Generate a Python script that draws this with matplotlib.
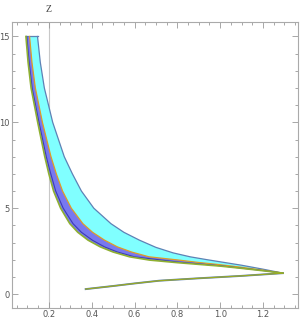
import matplotlib
matplotlib.use("Agg")
import matplotlib.pyplot as plt
from matplotlib.ticker import MultipleLocator

# Outer (right, blue-outlined) edge of the band
x_outer = [0.147, 0.160, 0.179, 0.218, 0.272, 0.31, 0.352, 0.41, 0.49, 0.55, 0.623,
           0.70, 0.78, 0.86, 0.94, 1.0, 1.1, 1.2, 1.293]
z_outer = [15, 13.5, 12, 10, 8, 7, 6, 5, 4.1, 3.6, 3.14,
           2.72, 2.40, 2.17, 2.0, 1.88, 1.68, 1.45, 1.22]

# Inner (left, green) edge
x_inner = [0.093, 0.103, 0.117, 0.148, 0.181, 0.20, 0.222, 0.255, 0.298, 0.335, 0.383,
           0.44, 0.50, 0.577, 0.67, 0.8, 0.9, 1.0, 1.1, 1.2, 1.293]
z_inner = [15, 13.5, 12, 10, 8, 7, 6, 5, 4.1, 3.6, 3.14,
           2.75, 2.45, 2.17, 1.98, 1.83, 1.73, 1.63, 1.50, 1.36, 1.22]

# Orange middle curve
x_mid = [0.110, 0.121, 0.137, 0.170, 0.210, 0.235, 0.264, 0.305, 0.359, 0.404, 0.460,
         0.52, 0.586, 0.668, 0.8, 0.9, 1.0, 1.1, 1.2, 1.293]
z_mid = [15, 13.5, 12, 10, 8, 7, 6, 5, 4.1, 3.6, 3.14,
         2.75, 2.45, 2.17, 1.99, 1.84, 1.71, 1.56, 1.39, 1.22]

# Dark blue curve near the inner edge
x_dark = [0.097, 0.108, 0.122, 0.154, 0.188, 0.209, 0.232, 0.267, 0.313, 0.352, 0.403,
          0.46, 0.52, 0.60, 0.8, 0.9, 1.0, 1.1, 1.2, 1.293]
z_dark = [15, 13.5, 12, 10, 8, 7, 6, 5, 4.1, 3.6, 3.14,
          2.75, 2.45, 2.17, 1.87, 1.76, 1.65, 1.51, 1.37, 1.22]

# Lower branch
x_low = [0.372, 0.5, 0.6, 0.716, 0.9, 1.1, 1.293]
z_low = [0.29, 0.47, 0.62, 0.78, 0.92, 1.06, 1.22]

x_ticks = [0.2, 0.4, 0.6, 0.8, 1.0, 1.2]
x_ticklabels = ["0.2", "0.4", "0.6", "0.8", "1.0", "1.2"]
y_ticks = [0, 5, 10, 15]
y_ticklabels = ["0", "5", "10", "15"]

fig = plt.figure(figsize=(3.0, 3.22), dpi=100)
ax = fig.add_axes([0.039, 0.0435, 0.954, 0.8885])

ax.fill(x_outer + x_inner[::-1], z_outer + z_inner[::-1], color="#80ffff", lw=0, zorder=1)
ax.fill(x_mid + x_inner[::-1], z_mid + z_inner[::-1], color="#7878f0", lw=0, zorder=2)

ax.plot(x_outer, z_outer, color="#5E81B5", lw=0.9, zorder=3, solid_joinstyle="round")
ax.plot([x_inner[0], x_outer[0]], [z_inner[0], z_outer[0]], color="#5E81B5", lw=0.9, zorder=3)
ax.plot(x_mid, z_mid, color="#E19C24", lw=0.9, zorder=3, solid_joinstyle="round")
ax.plot(x_dark, z_dark, color="#3d3db5", lw=0.8, zorder=3, solid_joinstyle="round")
ax.plot(x_inner, z_inner, color="#8FB032", lw=1.2, zorder=4, solid_joinstyle="round")

ax.plot(x_low, z_low, color="#5E81B5", lw=1.4, zorder=3)
ax.plot(x_low, z_low, color="#9aaa22", lw=0.9, zorder=4)

ax.axvline(0.2, color="#c8c8c8", lw=0.8, zorder=0)

ax.set_xlim(0.0265, 1.363)
ax.set_ylim(-0.81, 15.85)

ax.set_xticks(x_ticks)
ax.set_xticklabels(x_ticklabels)
ax.set_yticks(y_ticks)
ax.set_yticklabels(y_ticklabels)
ax.xaxis.set_minor_locator(MultipleLocator(0.05))
ax.yaxis.set_minor_locator(MultipleLocator(1))
ax.tick_params(which="both", direction="in", top=True, right=True, colors="#999999",
               labelcolor="#555555", labelsize=6, width=0.6)
ax.tick_params(which="major", length=4, pad=1.5)
ax.tick_params(which="minor", length=2)
for s in ax.spines.values():
    s.set_color("#aaaaaa")
    s.set_linewidth(0.8)

ax.text(0.2, 16.55, "Z", ha="center", va="center", fontsize=7, color="#444444",
        family="Liberation Serif")

fig.savefig("out.png", dpi=100)
